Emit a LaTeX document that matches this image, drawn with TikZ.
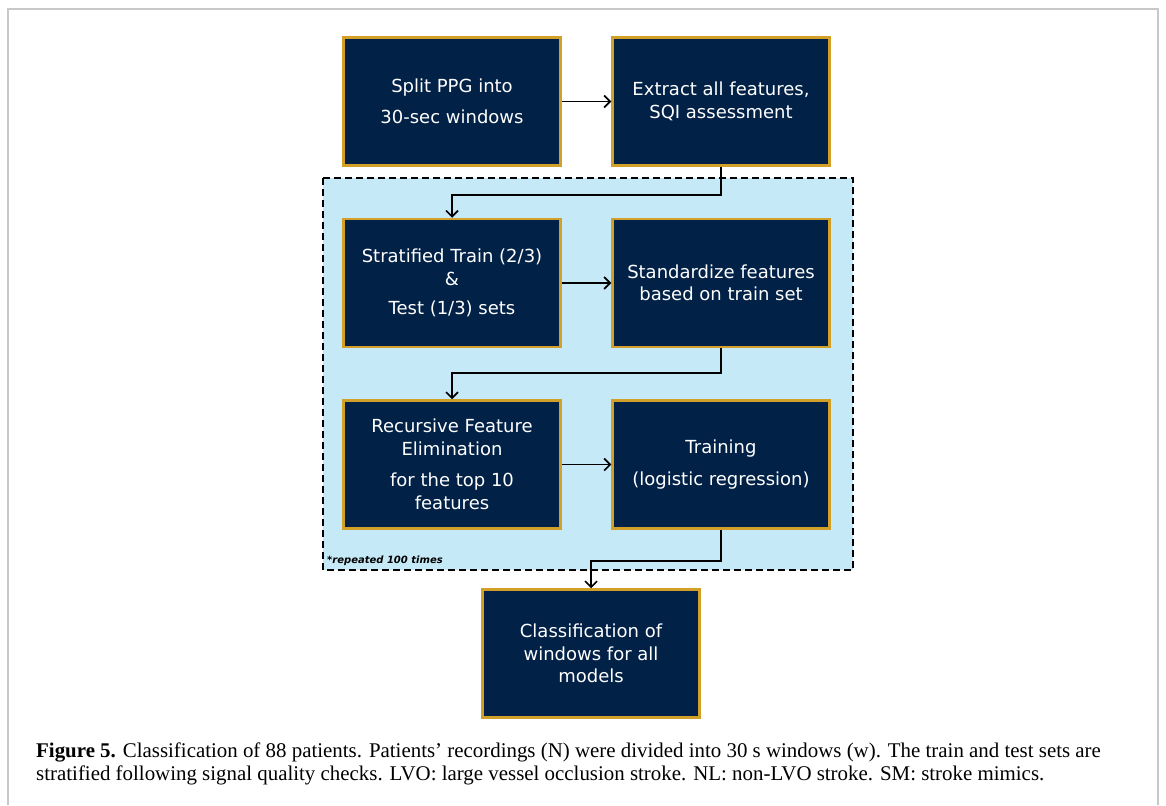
\documentclass[tikz,border=0pt]{standalone}
\usepackage{fontspec}
\setmainfont{Liberation Serif}
\newfontfamily\boxfont{DejaVu Sans}
\usetikzlibrary{arrows.meta,calc}
\definecolor{navy}{RGB}{1,33,71}
\definecolor{gold}{RGB}{210,160,40}
\definecolor{lightblue}{RGB}{198,233,248}
\definecolor{framegray}{RGB}{200,200,200}
\tikzset{
  stepbox/.style={draw=gold, fill=navy, line width=2.5pt, text=white,
    minimum width=217pt, minimum height=128pt, inner sep=0pt, align=center,
    font=\boxfont\fontsize{18pt}{22.5pt}\selectfont},
  arr/.style={draw=black, line width=1.6pt, -{Straight Barb[length=6pt,width=12pt,line width=1.6pt]}},
  region/.style={draw=black, fill=lightblue, line width=1.2pt, dash pattern=on 7pt off 4pt},
  captxt/.style={anchor=base west, inner sep=0pt, font=\fontsize{20.9pt}{24pt}\selectfont}
}
\begin{document}
\begin{tikzpicture}[x=1pt,y=-1pt]
\useasboundingbox (0,0) rectangle (1166,805);
\fill[white] (0,0) rectangle (1166,805);
\draw[framegray, line width=1.5pt] (8,805) -- (8,9) -- (1158,9) -- (1158,805);
% repeated region
\draw[region] (323,178) rectangle (853,570);
\node[anchor=west, inner sep=0pt, font=\boxfont\bfseries\itshape\fontsize{10pt}{12pt}\selectfont] (rep) at (327,561) {*repeated 100 times};
% boxes
\node[stepbox] (b1) at (452,101.5) {Split PPG into\\[8pt]30-sec windows};
\node[stepbox] (b2) at (721,101.5) {Extract all features,\\SQI assessment};
\node[stepbox] (b3) at (452,283) {Stratified Train (2/3)\\\&\\[7pt]Test (1/3) sets};
\node[stepbox] (b4) at (721,283) {Standardize features\\based on train set};
\node[stepbox] (b5) at (452,464.5) {Recursive Feature\\Elimination\\[9pt]for the top 10\\features};
\node[stepbox] (b6) at (721,464.5) {Training\\[9pt](logistic regression)};
\node[stepbox] (b7) at (591,653.5) {Classification of\\windows for all\\models};
% connectors
\draw[arr] (b1.east) -- (b2.west);
\draw[arr] (b2.south) |- ($(b3.north)+(0,-23)$) -- (b3.north);
\draw[arr] (b3.east) -- (b4.west);
\draw[arr] (b4.south) |- ($(b5.north)+(0,-26)$) -- (b5.north);
\draw[arr] (b5.east) -- (b6.west);
\draw[arr] (b6.south) |- ($(b7.north)+(0,-27)$) -- (b7.north);
% caption
\node[captxt] (cap1) at (36,757) {\textbf{Figure 5.} Classification of 88 patients. Patients’ recordings (N) were divided into 30 s windows (w). The train and test sets are};
\node[captxt] (cap2) at (36,780) {stratified following signal quality checks. LVO: large vessel occlusion stroke. NL: non-LVO stroke. SM: stroke mimics.};
\end{tikzpicture}
\end{document}
